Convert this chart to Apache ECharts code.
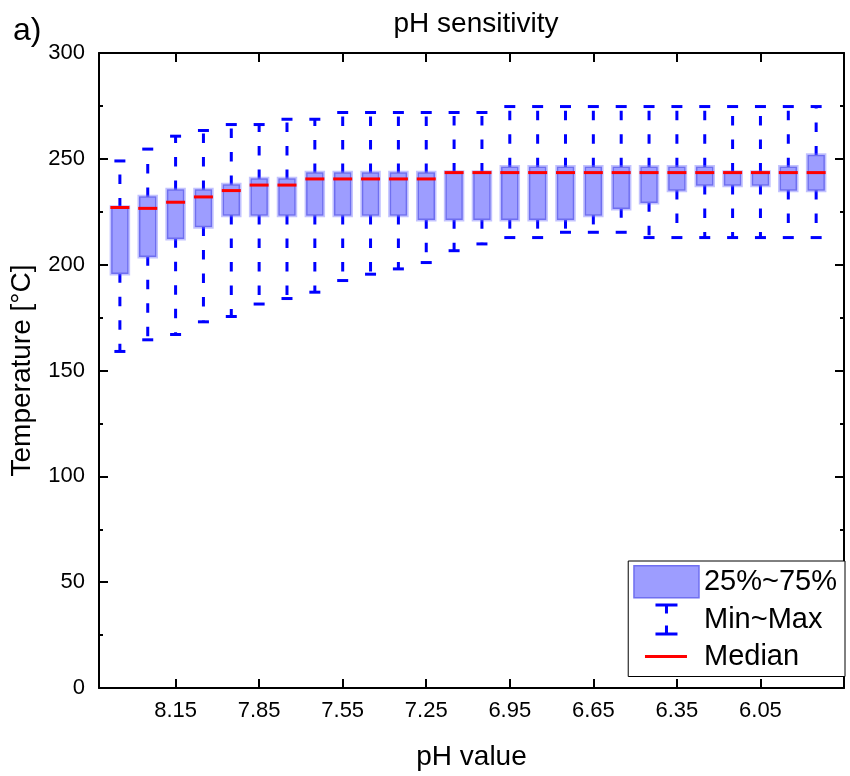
<!DOCTYPE html>
<html><head><meta charset="utf-8">
<script src="https://cdn.jsdelivr.net/npm/echarts@6/dist/echarts.min.js"></script>
<style>html,body{margin:0;padding:0;background:#fff}#chart{width:850px;height:776px}</style>
</head><body><div id="chart"></div>
<script>
// pH categories (x positions of the boxes)
const phValues = [8.35,8.25,8.15,8.05,7.95,7.85,7.75,7.65,7.55,7.45,7.35,7.25,7.15,7.05,6.95,6.85,6.75,6.65,6.55,6.45,6.35,6.25,6.15,6.05,5.95,5.85];
// Temperature statistics [°C]
const minVals = [159,164.5,167,173,175.5,181.4,184,187,192.5,195.5,198,201,206.6,209.8,212.8,212.8,215.3,215.3,215.3,212.8,212.8,212.8,212.8,212.8,212.8,212.8];
const q1Vals  = [196,204,212.5,218,223.5,223.5,223.5,223.5,223.5,223.5,223.5,221.5,221.5,221.5,221.5,221.5,221.5,223.5,226.6,229.5,235.3,237.6,237.6,237.6,235.3,235.3];
const medVals = [227,226.6,229.5,232,235,237.6,237.6,240.5,240.5,240.5,240.5,240.5,243.5,243.5,243.5,243.5,243.5,243.5,243.5,243.5,243.5,243.5,243.5,243.5,243.5,243.5];
const q3Vals  = [227,232,235.3,235.3,237.6,240.5,240.5,243.3,243.3,243.3,243.3,243.3,243.5,243.5,246,246,246,246,246,246,246,246,243.5,243.5,246,251.6];
const maxVals = [249,254.6,260.7,263.4,266.2,266.2,268.7,268.7,271.9,271.9,271.9,271.9,271.9,271.9,274.7,274.7,274.7,274.7,274.7,274.7,274.7,274.7,274.7,274.7,274.7,274.7];
// axis ranges / ticks
const xMin = 5.75, xMax = 8.425, xInterval = 0.3;
const yMin = 0, yMax = 300, yInterval = 50;

const FONT = '"Liberation Sans", Arial, Helvetica, sans-serif';
const rows = phValues.map((p, i) => [p, minVals[i], q1Vals[i], medVals[i], q3Vals[i], maxVals[i]]);

function renderWhisker(params, api) {
  const x = api.value(0);
  const pMin = api.coord([x, api.value(1)]);
  const pQ1 = api.coord([x, api.value(2)]);
  const pQ3 = api.coord([x, api.value(4)]);
  const pMax = api.coord([x, api.value(5)]);
  const cx = pMin[0], hw = 5.5;
  const dash = { stroke: '#0000ff', lineWidth: 3, lineDash: [9.5, 14], fill: null };
  const solid = { stroke: '#0000ff', lineWidth: 3, fill: null };
  return { type: 'group', children: [
    { type: 'line', shape: { x1: cx, y1: pQ1[1], x2: cx, y2: pMin[1] }, style: dash },
    { type: 'line', shape: { x1: cx, y1: pQ3[1], x2: cx, y2: pMax[1] }, style: dash },
    { type: 'line', shape: { x1: cx - hw, y1: pMin[1], x2: cx + hw, y2: pMin[1] }, style: solid },
    { type: 'line', shape: { x1: cx - hw, y1: pMax[1], x2: cx + hw, y2: pMax[1] }, style: solid }
  ]};
}
function renderBox(params, api) {
  const x = api.value(0);
  const pQ1 = api.coord([x, api.value(2)]);
  const pQ3 = api.coord([x, api.value(4)]);
  const cx = pQ1[0];
  const h = pQ1[1] - pQ3[1];
  return { type: 'group', children: [
    { type: 'rect', shape: { x: cx - 9.5, y: pQ3[1] - 1.5, width: 19, height: h + 3 }, style: { fill: null, stroke: 'rgba(120,120,255,0.45)', lineWidth: 1.5 } },
    { type: 'rect', shape: { x: cx - 8, y: pQ3[1], width: 16, height: h }, style: { fill: '#9d9dff', stroke: '#6f6ff0', lineWidth: 1.5 } }
  ]};
}
function renderMedian(params, api) {
  const x = api.value(0);
  const p = api.coord([x, api.value(3)]);
  return { type: 'line', shape: { x1: p[0] - 9.5, y1: p[1], x2: p[0] + 9.5, y2: p[1] }, style: { stroke: '#ff0000', lineWidth: 3 } };
}

const whiskerIcon = 'path://M0,0M65,32M21.5,0L43.5,0L43.5,3L34,3L34,10L31,10L31,3L21.5,3Z M31,22L34,22L34,29L43.5,29L43.5,32L21.5,32L21.5,29L31,29Z';
const medianIcon = 'path://M0,0M65,32M11,14.5L53,14.5L53,17.5L11,17.5Z';

const axisLineStyle = { color: '#000', width: 2 };
const chart = echarts.init(document.getElementById('chart'), null, { renderer: 'canvas' });
chart.setOption({
  animation: false,
  backgroundColor: '#fff',
  textStyle: { fontFamily: FONT },
  title: { text: 'pH sensitivity', left: 471, top: 5, textAlign: 'center',
    textStyle: { fontFamily: FONT, fontSize: 28, fontWeight: 'normal', color: '#000' } },
  graphic: [{ type: 'text', left: 13, top: 15, style: { text: 'a)', font: '32px ' + FONT, fill: '#000' } }],
  grid: { left: 99, right: 6, top: 53, bottom: 88, containLabel: false },
  legend: {
    orient: 'vertical', right: 5, top: 561, itemWidth: 65, itemHeight: 32, itemGap: 5, itemTextGap: 8,
    padding: [4, 8, 4, 5], borderColor: '#000', borderWidth: 1, backgroundColor: '#fff', selectedMode: false,
    textStyle: { fontFamily: FONT, fontSize: 29, color: '#000' },
    data: [
      { name: '25%~75%', icon: 'rect', itemStyle: { color: '#9d9dff', borderColor: '#6f6ff0', borderWidth: 1.5 } },
      { name: 'Min~Max', icon: whiskerIcon, itemStyle: { color: '#0000ff', borderWidth: 0 } },
      { name: 'Median', icon: medianIcon, itemStyle: { color: '#ff0000', borderWidth: 0 } }
    ]
  },
  xAxis: [
    { type: 'value', inverse: true, min: xMin, max: xMax, interval: xInterval, position: 'bottom',
      name: 'pH value', nameLocation: 'middle', nameGap: 55,
      nameTextStyle: { fontFamily: FONT, fontSize: 28, color: '#000' },
      axisLine: { onZero: false, lineStyle: axisLineStyle },
      axisTick: { inside: true, length: 9, lineStyle: axisLineStyle },
      axisLabel: { fontFamily: FONT, fontSize: 22, color: '#000', margin: 12, showMinLabel: false, showMaxLabel: false },
      splitLine: { show: false } },
    { type: 'value', inverse: true, min: xMin, max: xMax, interval: xInterval, position: 'top',
      axisLine: { onZero: false, lineStyle: axisLineStyle },
      axisTick: { inside: true, length: 9, lineStyle: axisLineStyle },
      axisLabel: { show: false }, splitLine: { show: false } }
  ],
  yAxis: [
    { type: 'value', min: yMin, max: yMax, interval: yInterval, position: 'left',
      name: 'Temperature [°C]', nameLocation: 'middle', nameGap: 63, nameRotate: 90,
      nameTextStyle: { fontFamily: FONT, fontSize: 28, color: '#000' },
      axisLine: { show: true, onZero: false, lineStyle: axisLineStyle },
      axisTick: { show: true, inside: true, length: 9, lineStyle: axisLineStyle },
      minorTick: { show: true, splitNumber: 2, length: 4, lineStyle: axisLineStyle },
      axisLabel: { fontFamily: FONT, fontSize: 22, color: '#000', margin: 14 },
      splitLine: { show: false } },
    { type: 'value', min: yMin, max: yMax, interval: yInterval, position: 'right',
      axisLine: { show: true, onZero: false, lineStyle: axisLineStyle },
      axisTick: { show: true, inside: true, length: 9, lineStyle: axisLineStyle },
      minorTick: { show: true, splitNumber: 2, length: 4, lineStyle: axisLineStyle },
      axisLabel: { show: false }, splitLine: { show: false } }
  ],
  series: [
    { name: 'Min~Max', type: 'custom', xAxisIndex: 0, yAxisIndex: 0, renderItem: renderWhisker,
      encode: { x: 0, y: [1, 2, 3, 4, 5] }, data: rows, itemStyle: { color: '#0000ff' } },
    { name: '25%~75%', type: 'custom', xAxisIndex: 0, yAxisIndex: 0, renderItem: renderBox,
      encode: { x: 0, y: [1, 2, 3, 4, 5] }, data: rows, itemStyle: { color: '#9d9dff' } },
    { name: 'Median', type: 'custom', xAxisIndex: 0, yAxisIndex: 0, renderItem: renderMedian,
      encode: { x: 0, y: [1, 2, 3, 4, 5] }, data: rows, itemStyle: { color: '#ff0000' } }
  ]
});
</script></body></html>
